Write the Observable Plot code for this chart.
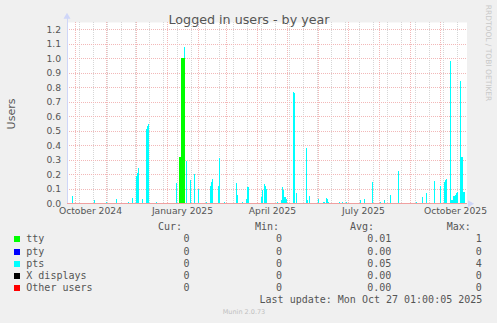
<!DOCTYPE html>
<html>
<head>
<meta charset="utf-8">
<script src="https://cdn.jsdelivr.net/npm/d3@7"></script>
<script src="https://cdn.jsdelivr.net/npm/@observablehq/plot@0.6"></script>
<style>
  html, body { margin: 0; padding: 0; background: #f0f0f0; }
  #wrap { position: relative; width: 497px; height: 323px; background: #f0f0f0; overflow: hidden; font-family: "DejaVu Sans", sans-serif; color: #555; }
  #chart { position: absolute; left: 0; top: 0; }
  .abs { position: absolute; white-space: nowrap; line-height: 1; }
  .mono { font-family: "DejaVu Sans Mono", monospace; font-size: 10px; color: #555; }
</style>
</head>
<body>
<div id="wrap">
  <div id="chart"></div>
</div>
<script>
// ---------- data ----------
// time window of the "by year" graph: 400 days ending at the last update
const startTime = "2024-09-22T01:00:05Z";
const endTime = "2025-10-27T01:00:05Z";

// daily averages, given as day offsets from startTime
const ttyDays = [112, 113, 114, 115, 116, 117];
const ttyVals = [0.32, 0.32, 1.0, 1.0, 1.0, 1.0];

const ptsDays = [5, 27, 39, 49, 61, 65, 69, 70, 71, 75, 79, 80, 81, 89, 109, 117, 119,
  123, 127, 131, 139, 143, 144, 145, 151, 152, 157, 169, 170, 175, 179, 180, 181,
  194, 195, 197, 198, 199, 210, 214, 215, 216, 217, 218, 219, 226, 227, 229, 239, 240, 242,
  251, 256, 257, 259, 260, 261, 272, 275, 279, 293, 297, 305, 313, 317, 323, 331,
  349, 355, 359, 367, 373, 377, 378, 379, 383, 384, 385, 386, 387, 388, 389, 390,
  393, 394, 395, 396, 397];
const ptsVals = [0.05, 0.02, 0.01, 0.03, 0.01, 0.035, 0.19, 0.21, 0.245, 0.03, 0.51, 0.53, 0.55, 0.01, 0.14, 0.08, 0.29,
  0.16, 0.2, 0.1, 0.01, 0.12, 0.15, 0.165, 0.12, 0.31, 0.01, 0.14, 0.06, 0.01, 0.03, 0.11, 0.11,
  0.04, 0.09, 0.13, 0.12, 0.1, 0.01, 0.02, 0.11, 0.09, 0.04, 0.04, 0.03, 0.77, 0.76, 0.07, 0.38, 0.02, 0.05,
  0.03, 0.01, 0.01, 0.035, 0.03, 0.01, 0.01, 0.01, 0.01, 0.02, 0.03, 0.15, 0.01, 0.02, 0.06, 0.22,
  0.01, 0.04, 0.07, 0.155, 0.12, 0.15, 0.16, 0.165, 0.98, 0.02, 0.02, 0.05, 0.05, 0.06, 0.07, 0.08,
  0.84, 0.32, 0.32, 0.08, 0.08];

const seriesNames = ["tty", "pty", "pts", "X displays", "Other users"];
const seriesColors = ["#00ff00", "#0000ff", "#00ffff", "#000000", "#ff0000"];
const curVals = ["0", "0", "0", "0", "0"];
const minVals = ["0", "0", "0", "0", "0"];
const avgVals = ["0.01", "0.00", "0.05", "0.00", "0.00"];
const maxVals = ["1", "0", "4", "0", "0"];

const yTicks = [0, 0.1, 0.2, 0.3, 0.4, 0.5, 0.6, 0.7, 0.8, 0.9, 1.0, 1.1, 1.2];
const xLabelDates = ["2024-10-01", "2025-01-01", "2025-04-01", "2025-07-01", "2025-10-01"];
const xLabels = ["October 2024", "January 2025", "April 2025", "July 2025", "October 2025"];

const titleText = "Logged in users - by year";
const yLabel = "Users";
const lastUpdate = "Last update: Mon Oct 27 01:00:05 2025";
const watermark = "RRDTOOL / TOBI OETIKER";
const footer = "Munin 2.0.73";

// ---------- build table ----------
const DAY = 864e5;
const t0 = new Date(startTime);
const t1 = new Date(endTime);
const nDays = Math.round((t1 - t0) / DAY);
const seriesValues = {
  "tty": new Map(ttyDays.map((d, i) => [d, ttyVals[i]])),
  "pty": new Map(),
  "pts": new Map(ptsDays.map((d, i) => [d, ptsVals[i]])),
  "X displays": new Map(),
  "Other users": new Map()
};
const rows = [];
for (const s of seriesNames) {
  for (let d = 0; d <= nDays; d++) {
    rows.push({date: new Date(+t0 + d * DAY), series: s, value: seriesValues[s].get(d) ?? 0});
  }
}

const monthLines = d3.utcMonths(t0, t1);
const biweekLines = d3.range(0, nDays, 14).map(k => new Date(Date.UTC(2024, 9, 5) + k * DAY)).filter(d => d < t1);
const labelDates = xLabelDates.map(s => new Date(s + "T00:00:00Z"));
const labelOf = new Map(labelDates.map((d, i) => [+d, xLabels[i]]));

const W = 497, H = 220;
const chart = Plot.plot({
  width: W,
  height: H,
  marginLeft: 66.5,
  marginRight: 30.5,
  marginTop: 22,
  marginBottom: 16.7,
  style: {background: "transparent", fontFamily: "DejaVu Sans", fontSize: "9.2px", color: "#555", overflow: "visible"},
  x: {type: "utc", domain: [t0, t1]},
  y: {domain: [0, 1.25]},
  color: {domain: seriesNames, range: seriesColors},
  marks: [
    Plot.frame({fill: "white", stroke: null}),
    Plot.ruleX(biweekLines, {stroke: "#d6d6d6", strokeDasharray: "1,1", shapeRendering: "crispEdges"}),
    Plot.ruleX(monthLines, {stroke: "#f2b8b8", strokeDasharray: "1,1", shapeRendering: "crispEdges"}),
    Plot.ruleY(yTicks, {stroke: "#f2b8b8", strokeDasharray: "1,1", shapeRendering: "crispEdges"}),
    Plot.areaY(rows, {x: "date", y: "value", fill: "series", curve: "step-after", order: seriesNames, shapeRendering: "crispEdges"}),
    Plot.ruleY([0], {stroke: "#f0a0a0", shapeRendering: "crispEdges"}),
    Plot.ruleX([t0], {y1: 0, y2: 1.29, stroke: "#CFD6F8", shapeRendering: "crispEdges"}),
    Plot.dot([t0], {x: d => d, y: () => 1.29, symbol: "triangle", r: 2.6, fill: "#CFD6F8", stroke: null}),
    Plot.dot([t1], {x: d => new Date(+d + 3 * DAY), y: () => 0, symbol: "triangle", rotate: 90, r: 2.6, fill: "#CFD6F8", stroke: null}),
    Plot.axisY(yTicks, {tickSize: 0, tickPadding: 6, tickFormat: d3.format(".1f"), label: null, fill: "#555"}),
    Plot.axisX(labelDates, {tickSize: 0, tickPadding: 4, dx: 14.5, tickFormat: d => labelOf.get(+d), label: null, fill: "#555"})
  ]
});
document.getElementById("chart").appendChild(chart);

// ---------- surrounding text ----------
const wrap = document.getElementById("wrap");
function addDiv(text, cls, css) {
  const el = document.createElement("div");
  el.className = "abs " + (cls || "");
  el.textContent = text;
  Object.assign(el.style, css);
  wrap.appendChild(el);
  return el;
}
addDiv(titleText, "", {left: "249px", top: "19.5px", transform: "translate(-50%,-50%)", fontSize: "12.7px", color: "#555"});
addDiv(yLabel, "", {left: "11px", top: "113.7px", transform: "translate(-50%,-50%) rotate(-90deg)", fontSize: "11px", color: "#555"});
addDiv(watermark, "", {left: "487.5px", top: "53px", transform: "translate(-50%,-50%) rotate(90deg)", fontSize: "7.5px", color: "#c8c8c8"});
addDiv(footer, "", {left: "244px", top: "312px", transform: "translate(-50%,-50%)", fontSize: "6.5px", color: "#c0c0c0"});

// legend
const rowY0 = 239.3, rowStep = 12.25;
function rightText(text, right, cy) {
  addDiv(text, "mono", {left: (right) + "px", top: cy + "px", transform: "translate(-100%,-50%)"});
}
function leftText(text, left, cy) {
  addDiv(text, "mono", {left: left + "px", top: cy + "px", transform: "translate(0,-50%)"});
}
const headY = 226.8;
leftText("Cur:", 158, headY);
leftText("Min:", 255, headY);
leftText("Avg:", 350, headY);
leftText("Max:", 446.7, headY);
seriesNames.forEach((name, i) => {
  const cy = rowY0 + i * rowStep;
  const sw = document.createElement("div");
  Object.assign(sw.style, {position: "absolute", left: "14px", top: (cy - 3) + "px", width: "6px", height: "6px", background: seriesColors[i]});
  wrap.appendChild(sw);
  leftText(name, 26.3, cy);
  rightText(curVals[i], 189.5, cy);
  rightText(minVals[i], 282, cy);
  rightText(avgVals[i], 391.3, cy);
  rightText(maxVals[i], 481.7, cy);
});
rightText(lastUpdate, 482.3, 300);
</script>
</body>
</html>
